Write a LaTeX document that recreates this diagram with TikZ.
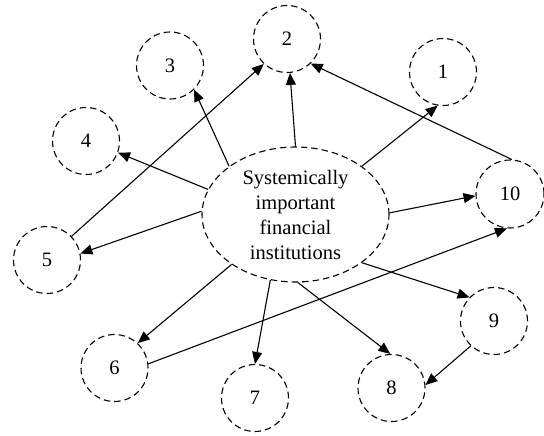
\documentclass[tikz,border=0pt]{standalone}
\usepackage{fontspec}
\setmainfont{Liberation Serif}
\usetikzlibrary{arrows.meta,shapes.geometric}
\begin{document}
\begin{tikzpicture}[x=1pt,y=-1pt,
  bank/.style={circle,draw,dash pattern=on 6.5pt off 4pt,line width=1.1pt,minimum size=67pt,inner sep=0pt,font=\fontsize{20.5}{24}\selectfont},
  hub/.style={ellipse,draw,dash pattern=on 6.5pt off 4pt,line width=1.1pt,minimum width=187pt,minimum height=135pt,inner sep=0pt,align=center,font=\fontsize{20.5}{25}\selectfont},
  link/.style={line width=1.1pt,-{Triangle[length=12pt,width=10pt]}}]
\useasboundingbox (0,0) rectangle (544,436);
\node[hub] (E) at (295.5,214.5) {Systemically\\important\\financial\\institutions};
\node[bank] (c1) at (443,72) {1};
\node[bank] (c2) at (287,39) {2};
\node[bank] (c3) at (170,65.5) {3};
\node[bank] (c4) at (86,141) {4};
\node[bank] (c5) at (47,260) {5};
\node[bank] (c6) at (114.5,368) {6};
\node[bank] (c7) at (255,398) {7};
\node[bank] (c8) at (391.5,388) {8};
\node[bank] (c9) at (494,321) {9};
\node[bank,minimum size=68pt] (c10) at (510,194) {10};
% from the hub
\draw[link] (E.144) -- (c3.-45);
\draw[link] (E.164.5) -- (c4.-20);
\draw[link] (E.90) -- (c2.-85);
\draw[link] (E.36.5) -- (c1.-99);
\draw[link] (E.1) -- (c10.-177);
\draw[link] (E.178) -- (c5.11);
\draw[link] (E.-142.8) -- (c6.47);
\draw[link] (E.-111.3) -- (c7.90);
\draw[link] (E.-88.7) -- (c8.92);
\draw[link] (E.-36.9) -- (c9.136);
% between institutions
\draw[link] (c5.44) -- (c2.-133);
\draw[link] (c10.87) -- (c2.-46);
\draw[link] (c6.7) -- (c10.-95);
\draw[link] (c9.-133) -- (c8.5);
\end{tikzpicture}
\end{document}
